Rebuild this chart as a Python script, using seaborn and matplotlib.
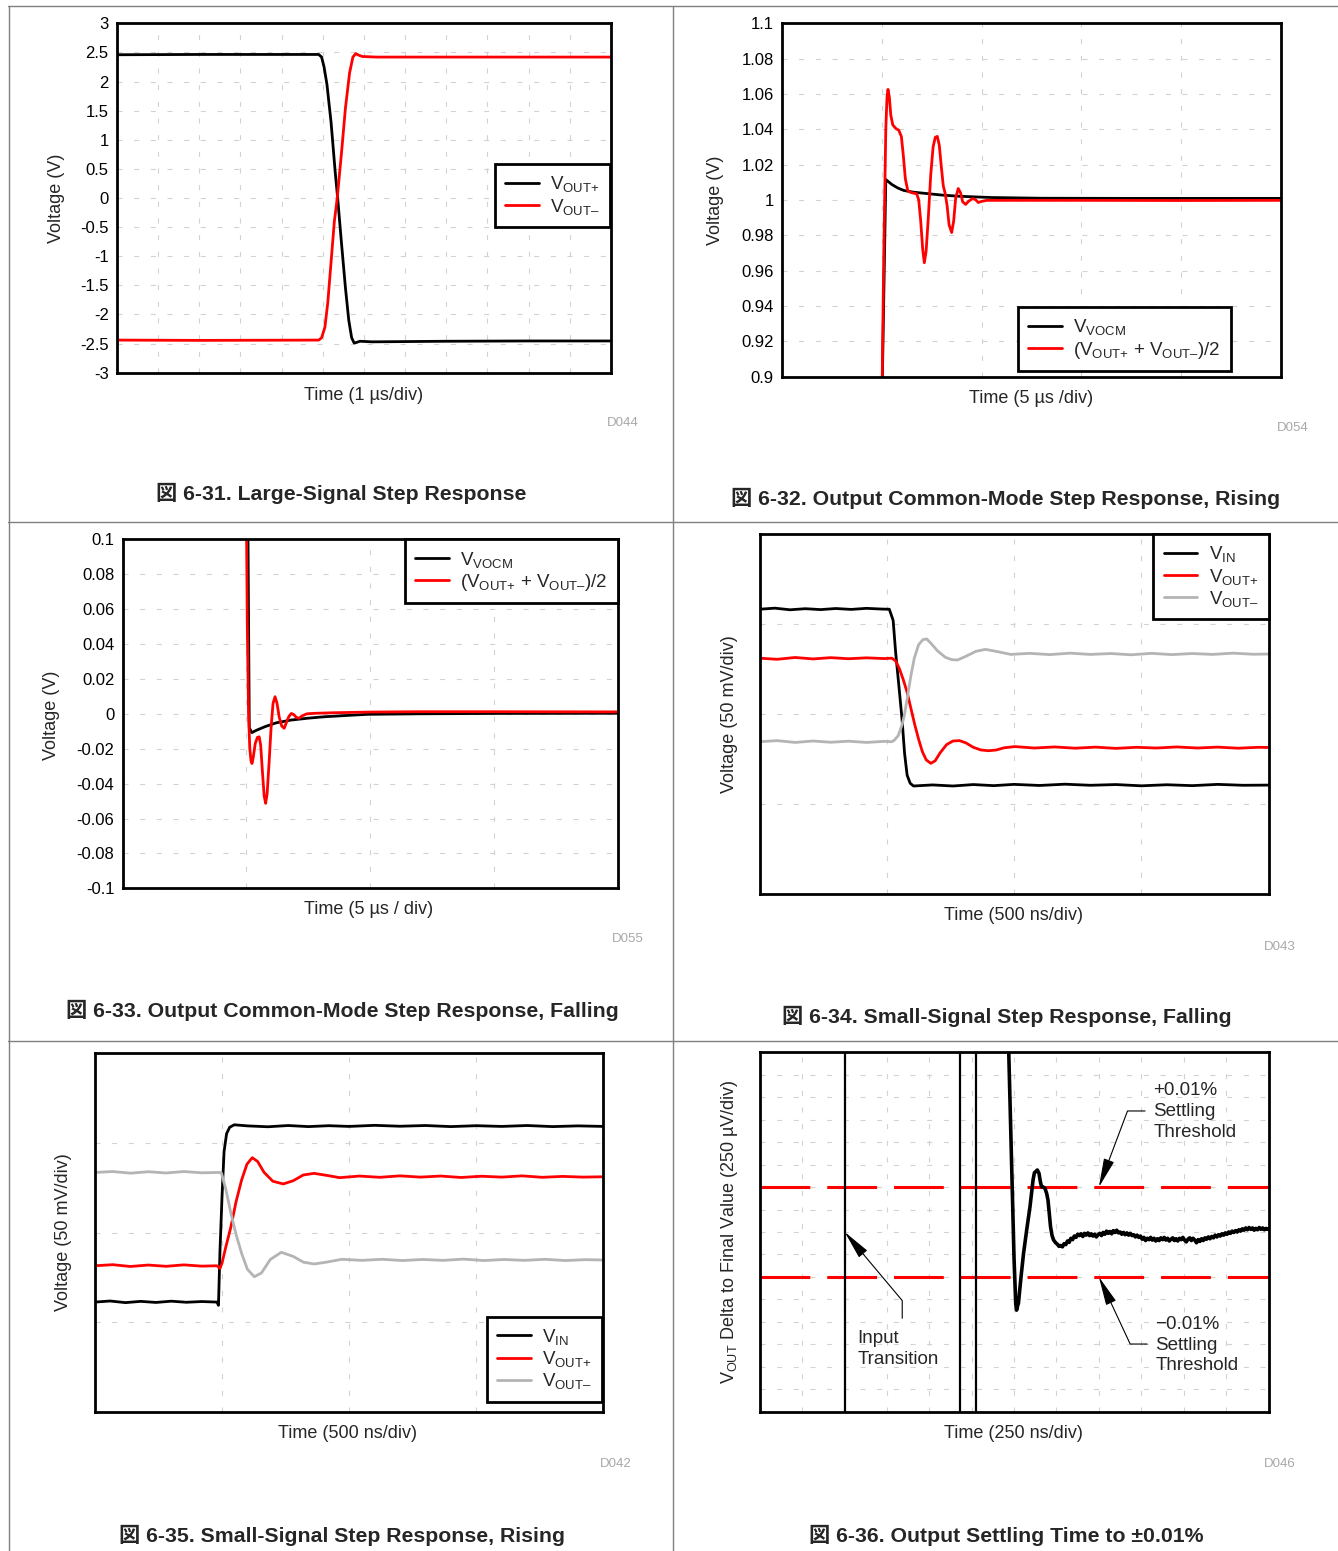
import matplotlib
matplotlib.use("Agg")
import matplotlib.pyplot as plt
from matplotlib.lines import Line2D
import seaborn as sns

sns.set_theme(style="white")
plt.rcParams["font.family"] = ["Liberation Sans", "Noto Sans CJK JP", "DejaVu Sans"]
plt.rcParams["mathtext.fontset"] = "custom"
plt.rcParams["mathtext.rm"] = "Liberation Sans"
plt.rcParams["mathtext.it"] = "Liberation Sans:italic"
plt.rcParams["mathtext.bf"] = "Liberation Sans:bold"
plt.rcParams["axes.unicode_minus"] = False

# ---------------- data ----------------
# Fig 6-31: large-signal step, time in us (1 us/div)
p1_t_pos = [0, 2, 4.90, 4.97, 5.03, 5.10, 5.20, 5.30, 5.36, 5.45, 5.55, 5.63, 5.70, 5.76, 5.82, 5.90, 6.2, 8, 10, 12]
p1_v_pos = [2.46, 2.465, 2.465, 2.42, 2.25, 1.95, 1.3, 0.45, 0.0, -0.75, -1.55, -2.1, -2.4, -2.49, -2.48, -2.46, -2.47, -2.46, -2.455, -2.455]
p1_t_neg = [0, 2, 4.90, 4.97, 5.05, 5.12, 5.20, 5.28, 5.35, 5.45, 5.55, 5.65, 5.73, 5.80, 5.88, 5.96, 6.3, 9, 12]
p1_v_neg = [-2.44, -2.445, -2.44, -2.40, -2.22, -1.8, -1.1, -0.4, 0.0, 0.75, 1.55, 2.15, 2.42, 2.48, 2.45, 2.43, 2.42, 2.42, 2.42]
p1_yticks = [-3, -2.5, -2, -1.5, -1, -0.5, 0, 0.5, 1, 1.5, 2, 2.5, 3]
p1_xgrid = [0, 1, 2, 3, 4, 5, 6, 7, 8, 9, 10, 11, 12]

# Fig 6-32: common-mode step rising, time in us (5 us/div)
p2_t_vocm = [0, 4.99, 5.0, 5.2, 5.5, 5.8, 6.1, 6.6, 7.3, 8.0, 8.9, 10.5, 13, 18, 25]
p2_v_vocm = [0.5, 0.5, 0.88, 1.0116, 1.0088, 1.0068, 1.0054, 1.0044, 1.0036, 1.0028, 1.0021, 1.0014, 1.001, 1.0009, 1.0009]
p2_t_avg = [0, 4.99, 5.0, 5.1, 5.2, 5.26, 5.31, 5.38, 5.45, 5.55, 5.7, 5.85, 5.98, 6.08, 6.18, 6.3,
            6.4, 6.55, 6.75, 6.85, 6.95, 7.05, 7.13, 7.22, 7.33, 7.45, 7.57, 7.68, 7.78, 7.88, 7.98,
            8.08, 8.17, 8.27, 8.37, 8.5, 8.6, 8.7, 8.83, 8.95, 9.05, 9.2, 9.35, 9.55, 9.7, 9.83, 10.0,
            10.25, 12, 15, 20, 25]
p2_v_avg = [0.5, 0.5, 0.88, 0.97, 1.04, 1.058, 1.0626, 1.058, 1.048, 1.0425, 1.0405, 1.0395, 1.036, 1.025, 1.012, 1.0054,
            1.0045, 1.004, 1.0035, 1.0, 0.988, 0.972, 0.9645, 0.971, 0.99, 1.014, 1.030, 1.0355, 1.036, 1.031, 1.019,
            1.008, 1.004, 0.997, 0.986, 0.9816, 0.988, 1.001, 1.0065, 1.004, 0.999, 0.9975, 0.9993, 1.0008, 1.0002, 0.9986, 0.9992,
            0.9998, 0.9998, 0.9998, 0.9997, 0.9998]
p2_yticks = [0.9, 0.92, 0.94, 0.96, 0.98, 1, 1.02, 1.04, 1.06, 1.08, 1.1]
p2_xgrid = [0, 5, 10, 15, 20, 25]

# Fig 6-33: common-mode step falling, time in us (5 us/div)
p3_t_vocm = [0, 5.02, 5.12, 5.22, 5.4, 5.75, 6.2, 6.8, 7.5, 8.15, 9.0, 9.9, 12, 15, 20]
p3_v_vocm = [0.2, 0.2, -0.008, -0.0108, -0.0095, -0.0074, -0.0052, -0.0036, -0.0025, -0.0017, -0.0010, -0.0003, 0.0, 0.0002, 0.0003]
p3_t_avg = [0, 5.0, 5.04, 5.09, 5.14, 5.19, 5.23, 5.28, 5.36, 5.45, 5.52, 5.58, 5.65, 5.72, 5.78, 5.84, 5.92,
            6.0, 6.08, 6.16, 6.24, 6.33, 6.43, 6.53, 6.62, 6.72, 6.82, 6.92, 7.02, 7.13, 7.25, 7.45, 7.8,
            8.5, 10, 12, 15, 20]
p3_v_avg = [0.12, 0.12, 0.05, 0.0, -0.02, -0.027, -0.0285, -0.025, -0.017, -0.0135, -0.0132, -0.018, -0.033, -0.047, -0.0513, -0.046, -0.028,
            -0.008, 0.006, 0.0098, 0.006, -0.002, -0.007, -0.0083, -0.005, -0.0015, 0.0002, -0.0005, -0.002, -0.0026, -0.0012, 0.0, 0.0003,
            0.0006, 0.001, 0.0012, 0.0012, 0.0011]
p3_yticks = [-0.1, -0.08, -0.06, -0.04, -0.02, 0, 0.02, 0.04, 0.06, 0.08, 0.1]
p3_xgrid = [0, 5, 10, 15, 20]

# Fig 6-34: small-signal falling, time in ns (500 ns/div), voltage in mV (50 mV/div)
p4_t_in = [0, 60, 120, 180, 240, 300, 360, 420, 480, 510, 525, 535, 548, 560, 570, 580, 592, 605, 680, 760, 840,
           920, 1000, 1100, 1200, 1300, 1400, 1500, 1600, 1700, 1800, 1900, 2000]
p4_v_in = [58.2, 58.8, 57.9, 58.5, 58.0, 58.6, 58.1, 58.7, 58.3, 58.2, 52, 34, 15, -3, -22, -34, -38.5, -40, -39.4,
           -40.0, -39.2, -39.8, -39.1, -39.7, -39.0, -39.6, -39.2, -39.9, -39.3, -39.8, -39.1, -39.6, -39.5]
p4_t_pos = [0, 70, 140, 210, 280, 350, 420, 490, 520, 535, 550, 565, 580, 595, 610, 625, 640, 655, 673, 690, 710,
            735, 760, 786, 810, 840, 870, 900, 930, 960, 1003, 1080, 1160, 1240, 1320, 1400, 1480, 1560, 1640,
            1720, 1800, 1880, 1960, 2000]
p4_v_pos = [31, 30.4, 31.4, 30.6, 31.3, 30.7, 31.2, 30.8, 31, 29.5, 25, 19, 12, 3, -6, -14, -21, -25.5, -27.4, -26,
            -21.5, -17, -15, -14.8, -16, -18.5, -20, -20.4, -20, -18.8, -18.1, -18.9, -18.3, -19.0, -18.4, -19.1,
            -18.5, -18.9, -18.3, -18.9, -18.4, -19.0, -18.5, -18.6]
p4_t_neg = [0, 70, 140, 210, 280, 350, 420, 490, 520, 530, 545, 560, 570, 582, 594, 608, 625, 642, 657, 672, 700,
            730, 755, 778, 810, 850, 887, 930, 987, 1060, 1140, 1220, 1300, 1380, 1460, 1540, 1620, 1700, 1780,
            1860, 1940, 2000]
p4_v_neg = [-15.4, -14.8, -15.8, -15.0, -15.7, -15.1, -15.8, -15.2, -15.4, -14.5, -12, -6, 0, 10, 20.7, 31, 38.5,
            41.3, 41.7, 39.5, 35, 31.5, 30.2, 30, 32, 34.8, 35.9, 34.8, 33.1, 33.7, 33.0, 33.8, 33.1, 33.6, 32.9,
            33.7, 33.0, 33.6, 33.1, 33.8, 33.2, 33.3]

# Fig 6-35: small-signal rising, time in ns, voltage in mV
p5_t_in = [0, 60, 120, 180, 240, 300, 360, 420, 480, 486, 492, 500, 508, 518, 530, 548, 600, 680, 760, 840, 920,
           1000, 1100, 1200, 1300, 1400, 1500, 1600, 1700, 1800, 1900, 2000]
p5_v_in = [-38.7, -38.1, -39.0, -38.3, -38.9, -38.2, -38.8, -38.4, -38.7, -40.5, -10, 20, 45, 55, 58.5, 59.9, 59.3,
           58.8, 59.5, 58.9, 59.4, 59.0, 59.6, 59.1, 59.5, 58.9, 59.4, 59.0, 59.5, 58.9, 59.3, 59.0]
p5_t_pos = [0, 70, 140, 210, 280, 350, 420, 480, 492, 500, 515, 535, 555, 577, 598, 619, 640, 665, 700, 741, 780,
            820, 862, 910, 963, 1040, 1120, 1200, 1280, 1360, 1440, 1520, 1600, 1680, 1760, 1840, 1920, 2000]
p5_v_pos = [-18.5, -17.9, -18.9, -18.1, -18.8, -18.0, -18.7, -18.5, -20, -17, -8, 3.2, 17, 29.2, 38, 41.6, 39.5,
            33.5, 28.5, 27, 28.8, 32, 32.9, 31.8, 30.5, 31.4, 30.7, 31.5, 30.8, 31.4, 30.6, 31.3, 30.8, 31.5, 30.7,
            31.2, 30.8, 31]
p5_t_neg = [0, 70, 140, 210, 280, 350, 420, 490, 498, 515, 535, 555, 577, 600, 627, 655, 690, 733, 780, 820, 862,
            910, 972, 1050, 1130, 1210, 1290, 1370, 1450, 1530, 1610, 1690, 1770, 1850, 1930, 2000]
p5_v_neg = [33.4, 33.9, 33.0, 33.8, 33.1, 33.9, 33.2, 33.4, 33, 24, 10.7, -1, -11.6, -20.5, -24.6, -22.5, -15, -11,
            -13.3, -16.5, -17.5, -16.5, -14.9, -15.5, -14.9, -15.6, -15.0, -15.5, -14.8, -15.6, -15.0, -15.5,
            -14.9, -15.6, -15.1, -15.3]

# Fig 6-36: settling, time in ns (250 ns/div), delta in uV (250 uV/div)
p6_input_edge_ns = [502, 502]
p6_input_edge_uv = [-2500, 2500]
p6_overdrive_ns = [1183, 1183, 1275, 1275]
p6_overdrive_uv = [-2500, 2500, 2500, -2500]
p6_t = [1462, 1500, 1510, 1515, 1520, 1526, 1540, 1556, 1575, 1594, 1605, 1612, 1620, 1627, 1637, 1647, 1655, 1662,
        1672, 1682, 1692, 1700, 1708, 1715, 1724,
        1733, 1745, 1755, 1765, 1775, 1785, 1795, 1805, 1815, 1825, 1835, 1845, 1855, 1865, 1875, 1885, 1895, 1905,
        1915, 1925, 1935, 1945, 1955, 1965, 1975, 1985, 1995, 2005, 2015, 2025, 2035, 2045, 2055, 2065, 2075, 2085,
        2095, 2105, 2115, 2125, 2135, 2145, 2155, 2165, 2175, 2185, 2195, 2205, 2215, 2225, 2235, 2245, 2255, 2265,
        2275, 2285, 2295, 2305, 2315, 2325, 2335, 2345, 2355, 2365, 2375, 2385, 2395, 2405, 2415, 2425, 2435, 2445,
        2455, 2465, 2475, 2485, 2495, 2505, 2515, 2525, 2535, 2545, 2555, 2565, 2575, 2585, 2595, 2605, 2615, 2625,
        2635, 2645, 2655, 2665, 2675, 2685, 2695, 2705, 2715, 2725, 2735, 2745, 2755, 2765, 2775, 2785, 2795, 2805,
        2815, 2825, 2835, 2845, 2855, 2865, 2875, 2885, 2895, 2905, 2915, 2925, 2935, 2945, 2955, 2965, 2975, 2985,
        2995, 3000]
p6_v = [2500, -300, -800, -870, -830, -790, -520, -237, 30, 282, 470, 579, 660, 671, 690, 653, 560, 504,
        500, 486, 430, 356, 200, 59, -40,
        -89, -120, -135, -160, -150, -165, -130, -140, -100, -115, -70, -85, -45, -60, -25, -40, -20, -50,
        -15, -35, -10, -40, -20, -45, -25, -55, -30, -15, -40, -5, -25, 10, -15, 5, -20, 15,
        -5, 20, -10, 0, -25, -5, -30, -10, -35, -15, -40, -30, -55, -35, -60, -45, -80, -60,
        -95, -70, -85, -60, -90, -70, -100, -75, -95, -65, -85, -60, -90, -70, -100, -80, -65, -95,
        -75, -100, -70, -85, -60, -90, -110, -80, -65, -95, -70, -90, -120, -85, -105, -75, -95, -65,
        -80, -55, -75, -50, -65, -35, -55, -30, -45, -20, -35, -10, -25, 0, -15, 10, -5, 15,
        0, 25, 10, 35, 20, 45, 25, 50, 30, 45, 20, 40, 25, 50, 30, 45, 25, 40,
        30, 35]
p6_threshold_uv = [500, -500]

# ---------------- layout ----------------
W, H = 1338, 1551
fig = plt.figure(figsize=(W / 100, H / 100), dpi=100)


def axes_px(l, r, t, b):
    return fig.add_axes([l / W, 1 - b / H, (r - l) / W, (b - t) / H])


def fpos(x, y):
    return x / W, 1 - y / H


def fmt(v):
    if abs(v) < 1e-9:
        return "0"
    return f"{round(v, 4):g}"


def style_axes(ax, xlim, ylim, xgrid, ygrid, ticklabels=False):
    ax.set_xlim(xlim)
    ax.set_ylim(ylim)
    ax.set_xticks(xgrid)
    ax.set_xticklabels([])
    ax.set_yticks(ygrid)
    if ticklabels:
        ax.set_yticklabels([fmt(v) for v in ygrid], fontsize=12)
    else:
        ax.set_yticklabels([])
    ax.tick_params(length=0, pad=6, colors="black")
    ax.grid(True, color="#d2d2d2", lw=0.8, ls=(0, (4.5, 10.5)))
    for s in ax.spines.values():
        s.set_linewidth(2)
        s.set_color("black")
    ax.set_xlabel("")
    ax.set_ylabel("")


def add_legend(ax, loc, anchor):
    leg = ax.legend(loc=loc, bbox_to_anchor=anchor, borderaxespad=0, fontsize=13.5,
                    handlelength=1.8, handletextpad=0.6, borderpad=0.55, labelspacing=0.12,
                    fancybox=False, framealpha=1, edgecolor="black")
    leg.get_frame().set_linewidth(2)
    return leg


def panel_text(ylabel, ylab_xy, xlabel, xlab_xy, code, code_xy, caption, cap_xy):
    fig.text(*fpos(*ylab_xy), ylabel, rotation=90, ha="center", va="center", fontsize=13)
    fig.text(*fpos(*xlab_xy), xlabel, ha="center", va="center", fontsize=13)
    fig.text(*fpos(*code_xy), code, ha="center", va="center", fontsize=9.5, color="#a8a8a8")
    fig.text(*fpos(*cap_xy), caption, ha="center", va="center", fontsize=15.3, fontweight="bold")


RED = "#ff0000"
GRAY = "#b4b4b4"
LW = 2
lab_pos = r"V$_{\mathrm{OUT}{+}}$"
lab_neg = r"V$_{\mathrm{OUT–}}$"
lab_in = r"V$_{\mathrm{IN}}$"
lab_vocm = r"V$_{\mathrm{VOCM}}$"
lab_avg = r"(V$_{\mathrm{OUT}{+}}$ + V$_{\mathrm{OUT–}}$)/2"
line_kw = dict(sort=False, estimator=None, lw=LW)

# ---- Fig 6-31 ----
ax1 = axes_px(117, 611, 23.3, 372.7)
sns.lineplot(x=p1_t_pos, y=p1_v_pos, ax=ax1, color="black", label=lab_pos, **line_kw)
sns.lineplot(x=p1_t_neg, y=p1_v_neg, ax=ax1, color=RED, label=lab_neg, **line_kw)
style_axes(ax1, (0, 12), (-3, 3), p1_xgrid, p1_yticks, ticklabels=True)
add_legend(ax1, "upper right", (0.998, 0.597))
panel_text("Voltage (V)", (56.5, 198), "Time (1 µs/div)", (364, 395), "D044", (622.6, 423.3),
           "図 6-31. Large-Signal Step Response", (341.5, 493.5))

# ---- Fig 6-32 ----
ax2 = axes_px(782, 1281, 23.3, 376.7)
sns.lineplot(x=p2_t_vocm, y=p2_v_vocm, ax=ax2, color="black", label=lab_vocm, **line_kw)
sns.lineplot(x=p2_t_avg, y=p2_v_avg, ax=ax2, color=RED, label=lab_avg, **line_kw)
style_axes(ax2, (0, 25), (0.9, 1.1), p2_xgrid, p2_yticks, ticklabels=True)
add_legend(ax2, "lower right", (0.9, 0.016))
panel_text("Voltage (V)", (716, 200), "Time (5 µs /div)", (1031, 398.3), "D054", (1293, 428.3),
           "図 6-32. Output Common-Mode Step Response, Rising", (1006, 498.3))

# ---- Fig 6-33 ----
ax3 = axes_px(122.6, 617.5, 539.3, 888.3)
sns.lineplot(x=p3_t_vocm, y=p3_v_vocm, ax=ax3, color="black", label=lab_vocm, **line_kw)
sns.lineplot(x=p3_t_avg, y=p3_v_avg, ax=ax3, color=RED, label=lab_avg, **line_kw)
style_axes(ax3, (0, 20), (-0.1, 0.1), p3_xgrid, p3_yticks, ticklabels=True)
add_legend(ax3, "upper right", (1.0, 1.0))
panel_text("Voltage (V)", (51, 715), "Time (5 µs / div)", (369, 910), "D055", (628, 939.3),
           "図 6-33. Output Common-Mode Step Response, Falling", (342, 1010))

# ---- Fig 6-34 ----
ax4 = axes_px(759.5, 1268.6, 534, 894)
sns.lineplot(x=p4_t_in, y=p4_v_in, ax=ax4, color="black", label=lab_in, **line_kw)
sns.lineplot(x=p4_t_pos, y=p4_v_pos, ax=ax4, color=RED, label=lab_pos, **line_kw)
sns.lineplot(x=p4_t_neg, y=p4_v_neg, ax=ax4, color=GRAY, label=lab_neg, **line_kw)
style_axes(ax4, (0, 2000), (-100, 100), [0, 500, 1000, 1500, 2000], [-100, -50, 0, 50, 100])
add_legend(ax4, "upper right", (1.0, 1.0))
panel_text("Voltage (50 mV/div)", (729, 714), "Time (500 ns/div)", (1013, 916), "D043", (1280, 946.7),
           "図 6-34. Small-Signal Step Response, Falling", (1006.7, 1016.7))

# ---- Fig 6-35 ----
ax5 = axes_px(94.9, 603.4, 1052.7, 1412.3)
sns.lineplot(x=p5_t_in, y=p5_v_in, ax=ax5, color="black", label=lab_in, **line_kw)
sns.lineplot(x=p5_t_pos, y=p5_v_pos, ax=ax5, color=RED, label=lab_pos, **line_kw)
sns.lineplot(x=p5_t_neg, y=p5_v_neg, ax=ax5, color=GRAY, label=lab_neg, **line_kw)
style_axes(ax5, (0, 2000), (-100, 100), [0, 500, 1000, 1500, 2000], [-100, -50, 0, 50, 100])
add_legend(ax5, "lower right", (0.998, 0.0295))
panel_text("Voltage (50 mV/div)", (63.7, 1232.5), "Time (500 ns/div)", (348, 1434), "D042", (615.4, 1464),
           "図 6-35. Small-Signal Step Response, Rising", (342, 1535))

# ---- Fig 6-36 ----
ax6 = axes_px(759.5, 1268.6, 1052.3, 1411.7)
for thr in p6_threshold_uv:
    ax6.axhline(thr, color=RED, lw=2.2, ls=(0, (16.3, 5.55)), zorder=2)
sns.lineplot(x=p6_input_edge_ns, y=p6_input_edge_uv, ax=ax6, color="black", sort=False, estimator=None, lw=1.6)
sns.lineplot(x=p6_overdrive_ns, y=p6_overdrive_uv, ax=ax6, color="black", sort=False, estimator=None, lw=1.6)
sns.lineplot(x=p6_t, y=p6_v, ax=ax6, color="black", sort=False, estimator=None, lw=2.6)
style_axes(ax6, (0, 3000), (-2000, 2000), list(range(0, 3001, 250)), list(range(-2000, 2001, 250)))

ann_kw = dict(fontsize=13.5, ha="left", va="center", linespacing=1.3)
ax6.text(2322, 1341, "+0.01%\nSettling\nThreshold", **ann_kw)
ax6.text(2334, -1258, "\u22120.01%\nSettling\nThreshold", **ann_kw)
ax6.text(577, -1300, "Input\nTransition", **ann_kw)


def arrow(tip, start, angle_a, angle_b):
    ax6.annotate("", xy=tip, xytext=start,
                 arrowprops=dict(arrowstyle="-|>,head_length=1.5,head_width=0.28",
                                 connectionstyle=f"angle,angleA={angle_a},angleB={angle_b},rad=0",
                                 color="black", lw=0.8, shrinkA=0, shrinkB=0, mutation_scale=12))


arrow((2000, 500), (2272, 1347), 0, 69.4)
arrow((2000, -500), (2284, -1247), 0, -65)
arrow((502, 0), (841, -960), 90, -50)

panel_text(r"V$_{\mathrm{OUT}}$ Delta to Final Value (250 µV/div)", (729, 1231.7), "Time (250 ns/div)",
           (1013, 1434), "D046", (1280, 1464), "図 6-36. Output Settling Time to ±0.01%", (1006.6, 1535))

# ---- cell dividers ----
div_kw = dict(color="#808080", lw=1, transform=fig.transFigure)
fig.add_artist(Line2D([8 / W, 1], [1 - 5.5 / H, 1 - 5.5 / H], **div_kw))
fig.add_artist(Line2D([8 / W, 1], [1 - 521.5 / H, 1 - 521.5 / H], **div_kw))
fig.add_artist(Line2D([8 / W, 1], [1 - 1040.5 / H, 1 - 1040.5 / H], **div_kw))
fig.add_artist(Line2D([8.5 / W, 8.5 / W], [0, 1 - 5.5 / H], **div_kw))
fig.add_artist(Line2D([673.5 / W, 673.5 / W], [0, 1 - 5.5 / H], **div_kw))

fig.savefig("out.png", dpi=100)
